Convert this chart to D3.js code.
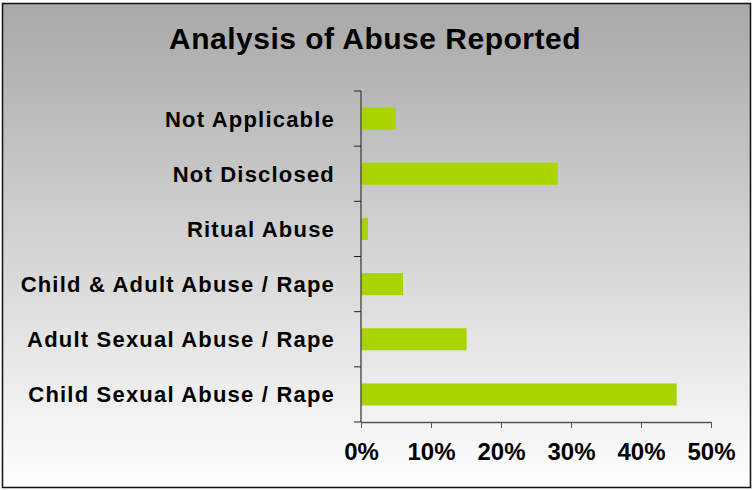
<!DOCTYPE html>
<html>
<head>
<meta charset="utf-8">
<script src="https://cdn.jsdelivr.net/npm/d3@7"></script>
<style>
  html, body { margin: 0; padding: 0; background: #fff; }
  svg { display: block; font-family: "Liberation Sans", Arial, sans-serif; }
</style>
</head>
<body>
<div id="chart"></div>
<script>
/* --- Data --- */
const categories = [
    "Not Applicable",
    "Not Disclosed",
    "Ritual Abuse",
    "Child & Adult Abuse / Rape",
    "Adult Sexual Abuse / Rape",
    "Child Sexual Abuse / Rape"
];
const values = [5.0, 28.1, 1.0, 6.0, 15.1, 45.1]; // percent
const xTicks = [0, 10, 20, 30, 40, 50];
const title = "Analysis of Abuse Reported";

/* --- Layout --- */
const W = 753, H = 490;
const margin = { top: 91, right: 42, bottom: 68, left: 361 };
const innerW = W - margin.left - margin.right;
const innerH = H - margin.top - margin.bottom;

const svg = d3.select("#chart").append("svg")
    .attr("width", W)
    .attr("height", H);

// background gradient
const grad = svg.append("defs").append("linearGradient")
    .attr("id", "bg").attr("x1", 0).attr("y1", 0).attr("x2", 0).attr("y2", 1);
grad.append("stop").attr("offset", "0%").attr("stop-color", "#a8a8a8");
grad.append("stop").attr("offset", "100%").attr("stop-color", "#ffffff");

svg.append("rect").attr("width", W).attr("height", H).attr("fill", "#fff");
svg.append("rect")
    .attr("x", 2.5).attr("y", 3.5)
    .attr("width", 748).attr("height", 484)
    .attr("fill", "url(#bg)")
    .attr("stroke", "#111")
    .attr("stroke-width", 1.5);

svg.append("text")
    .attr("x", 375)
    .attr("y", 49)
    .attr("text-anchor", "middle")
    .style("font-size", "30px")
    .style("font-weight", "bold")
    .style("letter-spacing", "0.5px")
    .attr("fill", "#000")
    .text(title);

const g = svg.append("g")
    .attr("transform", `translate(${margin.left}, ${margin.top})`);

// Scales
const x = d3.scaleLinear().domain([0, 50]).range([0, innerW]);
const y = d3.scaleBand().domain(categories).range([0, innerH]).paddingInner(0.6).paddingOuter(0.3);

// bars
g.selectAll("rect.bar")
    .data(categories)
    .enter().append("rect")
    .attr("class", "bar")
    .attr("x", 0)
    .attr("y", d => y(d))
    .attr("width", (d, i) => x(values[i]))
    .attr("height", y.bandwidth())
    .attr("fill", "#aad400");

// y axis: line + ticks on band boundaries
const yEdges = d3.range(categories.length + 1).map(i => i * innerH / categories.length);
g.append("line")
    .attr("x1", 0).attr("x2", 0)
    .attr("y1", 0).attr("y2", innerH)
    .attr("stroke", "#555")
    .attr("stroke-width", 1.5);
g.selectAll("line.ytick")
    .data(yEdges)
    .enter().append("line")
    .attr("class", "ytick")
    .attr("x1", -7).attr("x2", 0)
    .attr("y1", d => d).attr("y2", d => d)
    .attr("stroke", "#222");

g.selectAll("text.ylab")
    .data(categories)
    .enter().append("text")
    .attr("class", "ylab")
    .attr("x", -26)
    .attr("y", d => y(d) + y.bandwidth() / 2)
    .attr("dy", "0.36em")
    .attr("text-anchor", "end")
    .style("font-size", "22px")
    .style("font-weight", "bold")
    .style("letter-spacing", "1.2px")
    .attr("fill", "#000")
    .text(d => d);

// x axis
const xAxis = g.append("g")
    .attr("transform", `translate(0, ${innerH})`)
    .call(d3.axisBottom(x).tickValues(xTicks).tickSize(6).tickSizeOuter(0).tickFormat(d => d + "%"));
xAxis.select(".domain").attr("stroke", "#555").attr("stroke-width", 1.5);
xAxis.selectAll("line").attr("stroke", "#555");
xAxis.selectAll("text")
    .attr("y", 21)
    .attr("dy", "0.71em")
    .attr("fill", "#000")
    .style("font-size", "24px")
    .style("font-weight", "bold")
    .style("font-family", "'Liberation Sans', Arial, sans-serif");
</script>
</body>
</html>
